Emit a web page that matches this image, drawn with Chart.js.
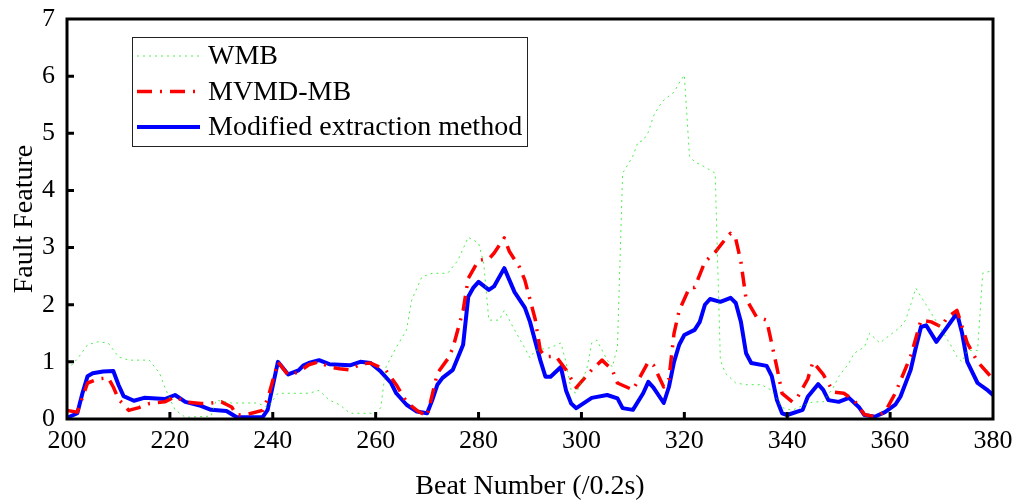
<!doctype html>
<html lang="en">
<head>
<meta charset="utf-8">
<title>Fault Feature vs Beat Number</title>
<script src="https://cdn.jsdelivr.net/npm/chart.js"></script>
<style>
  html, body { margin: 0; padding: 0; background: #fff; }
  #wrap { width: 1017px; height: 501px; }
</style>
</head>
<body>
<div id="wrap"><canvas id="chart"></canvas></div>
<script>
// values
const xTicks = [200, 220, 240, 260, 280, 300, 320, 340, 360, 380];
const yTicks = [0, 1, 2, 3, 4, 5, 6, 7];

const wmbBeats = [200,202,204,206,208,210,212,216,218,219,220,221,223,228,229,232,237,239,241,247,249,251,253,255,260,261,262,264,266,267,269,271,274,276,278,280,281,282,284,285,286,287,289,290,291,294,296,297,298,299,301,302,303,305,306,307,308,309,310,311,312,313,314,315,316,318,319,320,321,322,324,326,327,328,330,332,335,337,339,341,342,345,347,349,350,352,353,355,356,358,360,362,363,364,365,366,367,368,370,372,373,374,375,377,378,380];
const wmbValues = [0.86,1.05,1.3,1.35,1.33,1.09,1.03,1.03,0.8,0.56,0.35,0.16,0.03,0.05,0.33,0.28,0.28,0.2,0.45,0.45,0.5,0.33,0.25,0.1,0.1,0.2,0.91,1.25,1.56,2.08,2.49,2.55,2.55,2.78,3.18,3.08,2.73,1.73,1.73,1.9,1.73,1.56,1.24,1.07,1.2,1.25,1.33,1.0,0.5,0.45,0.86,1.33,1.38,1.03,0.91,1.26,4.3,4.45,4.6,4.85,4.87,5.02,5.3,5.46,5.58,5.72,5.88,6.02,4.6,4.5,4.41,4.3,1.03,0.8,0.63,0.6,0.6,0.5,0.2,0.15,0.2,0.3,0.3,0.56,0.74,0.98,1.15,1.26,1.5,1.33,1.47,1.61,1.73,2.0,2.29,2.14,2.0,1.85,1.56,1.26,1.09,1.0,1.2,1.2,2.55,2.6];

const mvmdBeats = [200,202,204,206,208,209,210,212,214,216,219,221,223,226,228,230,232,233,235,238,239,241,243,245,247,249,251,253,255,257,259,261,262,264,266,268,270,272,274,275,277,278,280,282,283,285,286,288,289,291,292,293,295,297,299,302,304,306,307,310,313,314,316,317,318,319,321,322,324,326,328,329,330,331,332,334,336,338,339,341,342,344,345,347,349,351,353,355,357,359,361,364,366,368,370,371,373,375,377,379,380];
const mvmdValues = [0.15,0.12,0.63,0.7,0.72,0.56,0.35,0.15,0.2,0.27,0.3,0.39,0.3,0.27,0.28,0.3,0.21,0.07,0.08,0.15,0.35,1.0,0.77,0.82,0.95,1.0,0.91,0.88,0.86,0.96,0.98,0.9,0.85,0.6,0.3,0.15,0.05,0.8,1.05,1.24,1.9,2.46,2.78,2.8,2.9,3.17,2.93,2.65,2.43,1.75,1.2,1.09,1.1,0.86,0.55,0.86,1.03,0.86,0.63,0.51,1.0,0.94,0.56,0.7,1.5,1.9,2.3,2.3,2.75,2.92,3.15,3.25,3.15,2.75,2.1,1.79,1.73,0.9,0.45,0.3,0.38,0.7,1.0,0.78,0.47,0.45,0.33,0.08,0.04,0.12,0.45,1.1,1.73,1.7,1.61,1.77,1.9,1.33,1.0,0.8,0.7];

const modBeats = [200,202,203,204,205,207,209,210,211,213,215,219,221,223,226,228,231,233,238,239,241,243,245,246,247,249,251,255,257,259,261,263,264,266,268,270,271,272,273,274,275,277,278,279,280,282,283,285,287,289,290,292,293,294,296,297,298,299,302,305,307,308,310,312,313,314,316,317,318,319,320,322,323,324,325,327,329,330,331,332,333,336,337,338,339,340,343,344,346,347,348,350,352,354,355,357,359,361,362,364,365,366,367,369,371,373,374,375,377,379,380];
const modValues = [0.02,0.1,0.45,0.75,0.8,0.83,0.84,0.6,0.4,0.32,0.37,0.35,0.42,0.3,0.23,0.16,0.14,0.03,0.03,0.16,1.0,0.78,0.85,0.94,0.98,1.03,0.96,0.94,1.0,0.98,0.83,0.63,0.45,0.25,0.13,0.1,0.33,0.6,0.72,0.79,0.86,1.3,2.14,2.3,2.4,2.26,2.32,2.64,2.22,1.95,1.7,1.03,0.74,0.74,0.91,0.5,0.27,0.19,0.37,0.42,0.36,0.19,0.16,0.45,0.65,0.55,0.28,0.56,1.0,1.3,1.47,1.56,1.7,2.0,2.1,2.05,2.12,2.03,1.7,1.15,0.98,0.93,0.75,0.33,0.1,0.07,0.16,0.39,0.61,0.51,0.33,0.3,0.37,0.2,0.07,0.04,0.12,0.25,0.39,0.86,1.25,1.61,1.64,1.35,1.6,1.85,1.5,1.0,0.63,0.5,0.42];

const seriesLabels = ['WMB', 'MVMD-MB', 'Modified extraction method'];

const toPoints = (bs, vs) => bs.map((b, i) => ({x: b, y: vs[i]}));
const serif = '"Liberation Serif", "Times New Roman", serif';

// frame, inward ticks and the boxed legend drawn over the plot
const frameAndLegend = {
  id: 'frameAndLegend',
  afterDatasetsDraw(chart) {
    const {ctx, chartArea: a} = chart;
    const xs = chart.scales.x, ys = chart.scales.y;
    ctx.save();
    ctx.strokeStyle = '#000';
    ctx.lineWidth = 3;
    ctx.beginPath();
    xTicks.slice(1, -1).forEach(v => {
      const px = xs.getPixelForValue(v);
      ctx.moveTo(px, a.bottom);
      ctx.lineTo(px, a.bottom - 7);
    });
    yTicks.slice(1, -1).forEach(v => {
      const py = ys.getPixelForValue(v);
      ctx.moveTo(a.left, py);
      ctx.lineTo(a.left + 7, py);
    });
    ctx.stroke();
    ctx.strokeRect(a.left, a.top, a.right - a.left, a.bottom - a.top);

    // legend box
    const bx = a.left + 65, by = a.top + 18, bw = 395, bh = 109;
    ctx.fillStyle = '#fff';
    ctx.fillRect(bx, by, bw, bh);
    ctx.lineWidth = 1;
    ctx.strokeStyle = '#222';
    ctx.strokeRect(bx + 0.5, by + 0.5, bw, bh);
    ctx.font = '28px ' + serif;
    ctx.textBaseline = 'middle';
    chart.data.datasets.forEach((ds, i) => {
      const ry = by + 19 + i * 35.5;
      ctx.save();
      ctx.strokeStyle = ds.borderColor;
      ctx.lineWidth = ds.borderWidth;
      ctx.setLineDash(ds.borderDash || []);
      ctx.beginPath();
      ctx.moveTo(bx + 5, ry);
      ctx.lineTo(bx + 68, ry);
      ctx.stroke();
      ctx.restore();
      ctx.fillStyle = '#000';
      ctx.fillText(ds.label, bx + 76, ry + 1);
    });
    ctx.restore();
  }
};

new Chart(document.getElementById('chart'), {
  type: 'line',
  data: {
    datasets: [
      {label: seriesLabels[0], data: toPoints(wmbBeats, wmbValues),
       borderColor: 'rgba(0,230,0,0.7)', borderWidth: 1, borderDash: [2, 4]},
      {label: seriesLabels[1], data: toPoints(mvmdBeats, mvmdValues),
       borderColor: '#ff0000', borderWidth: 3.5, borderDash: [15, 8, 2, 8]},
      {label: seriesLabels[2], data: toPoints(modBeats, modValues),
       borderColor: '#0000ff', borderWidth: 4}
    ]
  },
  options: {
    responsive: true,
    maintainAspectRatio: false,
    animation: false,
    events: [],
    elements: {
      point: {radius: 0},
      line: {tension: 0, borderJoinStyle: 'round', fill: false}
    },
    layout: {padding: {left: 0, right: 24, top: 19, bottom: 0}},
    plugins: {legend: {display: false}, tooltip: {enabled: false}},
    scales: {
      x: {
        type: 'linear', min: 200, max: 380,
        afterBuildTicks: s => { s.ticks = xTicks.map(v => ({value: v})); },
        afterFit: s => { s.height = 82; },
        grid: {display: false, drawTicks: false},
        border: {display: false},
        ticks: {color: '#000', padding: 0, maxRotation: 0, autoSkip: false,
                font: {family: serif, size: 26, lineHeight: 1.7}},
        title: {display: true, text: 'Beat Number (/0.2s)', color: '#000',
                padding: {top: 0, bottom: 0},
                font: {family: serif, size: 28, lineHeight: 1}}
      },
      y: {
        type: 'linear', min: 0, max: 7,
        afterBuildTicks: s => { s.ticks = yTicks.map(v => ({value: v})); },
        afterFit: s => { s.width = 67; },
        grid: {display: false, drawTicks: false},
        border: {display: false},
        ticks: {color: '#000', padding: 12,
                font: {family: serif, size: 26, lineHeight: 0.5}},
        title: {display: true, text: 'Fault Feature', color: '#000',
                padding: {top: 11, bottom: 0},
                font: {family: serif, size: 28, lineHeight: 1}}
      }
    }
  },
  plugins: [frameAndLegend]
});
</script>
</body>
</html>
